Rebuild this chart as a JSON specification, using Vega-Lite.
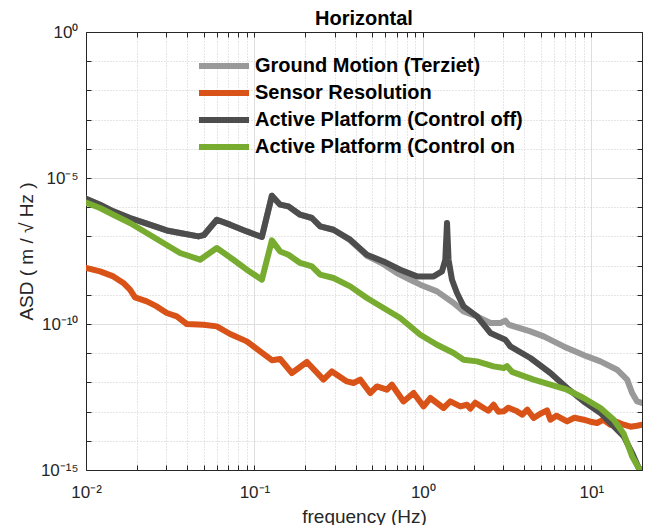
{
  "$schema": "https://vega.github.io/schema/vega-lite/v6.json",
  "width": 556,
  "height": 438,
  "autosize": {"type": "none"},
  "padding": {"left": 86, "top": 32, "right": 9, "bottom": 55},
  "background": "white",
  "title": {"text": "Horizontal", "fontSize": 20, "fontWeight": "bold", "color": "black", "font": "Liberation Sans", "anchor": "middle", "frame": "group", "baseline": "alphabetic", "offset": 7, "dy": 29},
  "config": {"view": {"stroke": null}, "font": "Liberation Sans"},
  "datasets": {
    "ground": [
      {"f":0.01,"v":1.954e-6},{"f":0.01211,"v":1.219e-6},{"f":0.01453,"v":7.18e-7},{"f":0.01825,"v":4.27e-7},{"f":0.02295,"v":2.72e-7},{"f":0.03017,"v":1.60e-7},{"f":0.03618,"v":1.306e-7},{"f":0.04649,"v":1.0e-7},{"f":0.05,"v":1.10e-7},{"f":0.05978,"v":3.73e-7},{"f":0.07171,"v":2.52e-7},{"f":0.0901,"v":1.48e-7},{"f":0.1107,"v":9.53e-8},{"f":0.1269,"v":2.48e-6},{"f":0.1421,"v":1.22e-6},{"f":0.1592,"v":1.065e-6},{"f":0.1868,"v":5.53e-7},{"f":0.2193,"v":4.27e-7},{"f":0.2457,"v":2.20e-7},{"f":0.2946,"v":1.69e-7},{"f":0.3703,"v":7.4e-8},{"f":0.4653,"v":2.18e-8},{"f":0.5842,"v":1.12e-8},{"f":0.7015,"v":5.58e-9},{"f":0.8416,"v":3.29e-9},{"f":0.965,"v":2.22e-9},{"f":1.213,"v":1.31e-9},{"f":1.522,"v":5.24e-10},{"f":1.745,"v":2.70e-10},{"f":2.097,"v":1.82e-10},{"f":2.515,"v":1.08e-10},{"f":2.884,"v":1.08e-10},{"f":3.088,"v":1.30e-10},{"f":3.23,"v":9.46e-11},{"f":4.346,"v":5.58e-11},{"f":5.215,"v":3.76e-11},{"f":6.855,"v":1.71e-11},{"f":9.44,"v":7.76e-12},{"f":11.33,"v":5.24e-12},{"f":14.23,"v":2.72e-12},{"f":16.32,"v":1.24e-12},{"f":17.48,"v":4.34e-13},{"f":18.71,"v":2.23e-13},{"f":20,"v":1.97e-13}
    ],
    "sensor": [
      {"f":0.01,"v":8.28e-9},{"f":0.01211,"v":6.33e-9},{"f":0.01453,"v":4.27e-9},{"f":0.01666,"v":2.54e-9},{"f":0.01825,"v":1.50e-9},{"f":0.01954,"v":8.15e-10},{"f":0.02295,"v":5.94e-10},{"f":0.0263,"v":4.01e-10},{"f":0.03017,"v":2.38e-10},{"f":0.03459,"v":1.82e-10},{"f":0.03965,"v":1.0e-10},{"f":0.04977,"v":9.46e-11},{"f":0.05978,"v":8.28e-11},{"f":0.07171,"v":4.55e-11},{"f":0.0901,"v":2.54e-11},{"f":0.1081,"v":1.15e-11},{"f":0.1269,"v":5.75e-12},{"f":0.1421,"v":6.33e-12},{"f":0.1668,"v":2.10e-12},{"f":0.2048,"v":5.00e-12},{"f":0.257,"v":1.24e-12},{"f":0.2884,"v":2.38e-12},{"f":0.354,"v":1.08e-12},{"f":0.3876,"v":9.53e-13},{"f":0.4246,"v":1.24e-12},{"f":0.4868,"v":4.34e-13},{"f":0.5337,"v":7.29e-13},{"f":0.6117,"v":5.62e-13},{"f":0.6552,"v":8.34e-13},{"f":0.7677,"v":2.23e-13},{"f":0.8805,"v":4.34e-13},{"f":1.01,"v":1.51e-13},{"f":1.107,"v":2.92e-13},{"f":1.327,"v":1.33e-13},{"f":1.455,"v":2.23e-13},{"f":1.668,"v":1.51e-13},{"f":1.828,"v":1.72e-13},{"f":1.912,"v":1.26e-13},{"f":2.048,"v":2.02e-13},{"f":2.295,"v":1.33e-13},{"f":2.447,"v":1.07e-13},{"f":2.631,"v":1.72e-13},{"f":2.805,"v":9.93e-14},{"f":3.017,"v":1.02e-13},{"f":3.217,"v":1.36e-13},{"f":3.623,"v":1.02e-13},{"f":3.896,"v":7.83e-14},{"f":4.173,"v":1.16e-13},{"f":4.548,"v":6.04e-14},{"f":4.983,"v":8.47e-14},{"f":5.463,"v":1.10e-13},{"f":5.715,"v":5.28e-14},{"f":6.203,"v":7.24e-14},{"f":7.18,"v":4.61e-14},{"f":7.935,"v":6.18e-14},{"f":9.01,"v":5.28e-14},{"f":9.88,"v":4.51e-14},{"f":10.83,"v":4.07e-14},{"f":11.8,"v":5.28e-14},{"f":12.99,"v":3.56e-14},{"f":14.1,"v":4.51e-14},{"f":15.58,"v":3.56e-14},{"f":17.08,"v":3.04e-14},{"f":18.71,"v":3.29e-14},{"f":20,"v":3.56e-14}
    ],
    "off": [
      {"f":0.01,"v":1.954e-6},{"f":0.01211,"v":1.219e-6},{"f":0.01453,"v":7.18e-7},{"f":0.01825,"v":4.27e-7},{"f":0.02295,"v":2.72e-7},{"f":0.03017,"v":1.60e-7},{"f":0.03618,"v":1.306e-7},{"f":0.04649,"v":1.0e-7},{"f":0.05,"v":1.10e-7},{"f":0.05978,"v":3.73e-7},{"f":0.07171,"v":2.52e-7},{"f":0.0901,"v":1.48e-7},{"f":0.1107,"v":9.53e-8},{"f":0.1269,"v":2.48e-6},{"f":0.1421,"v":1.22e-6},{"f":0.1592,"v":1.065e-6},{"f":0.1868,"v":5.53e-7},{"f":0.2193,"v":4.27e-7},{"f":0.2457,"v":2.20e-7},{"f":0.2946,"v":1.69e-7},{"f":0.3703,"v":7.71e-8},{"f":0.4653,"v":2.36e-8},{"f":0.5842,"v":1.39e-8},{"f":0.734,"v":7.24e-9},{"f":0.9226,"v":4.27e-9},{"f":1.158,"v":4.27e-9},{"f":1.299,"v":6.33e-9},{"f":1.359,"v":1.59e-8},{"f":1.391,"v":2.88e-7},{"f":1.421,"v":1.59e-8},{"f":1.489,"v":3.29e-9},{"f":1.594,"v":1.15e-9},{"f":1.745,"v":4.01e-10},{"f":2.097,"v":1.82e-10},{"f":2.515,"v":4.92e-11},{"f":3.088,"v":2.90e-11},{"f":3.305,"v":1.71e-11},{"f":4.346,"v":6.85e-12},{"f":5.715,"v":2.10e-12},{"f":7.18,"v":6.43e-13},{"f":9.01,"v":2.23e-13},{"f":11.33,"v":8.95e-14},{"f":13.59,"v":3.11e-14},{"f":15.58,"v":1.42e-14},{"f":17.48,"v":3.82e-15},{"f":19.12,"v":1.17e-15},{"f":20,"v":1.0e-15}
    ],
    "on": [
      {"f":0.01,"v":1.43e-6},{"f":0.01211,"v":9.39e-7},{"f":0.01453,"v":5.53e-7},{"f":0.01825,"v":2.88e-7},{"f":0.02295,"v":1.31e-7},{"f":0.02879,"v":5.94e-8},{"f":0.03618,"v":2.70e-8},{"f":0.04757,"v":1.59e-8},{"f":0.05978,"v":4.01e-8},{"f":0.07502,"v":1.59e-8},{"f":0.0901,"v":7.24e-9},{"f":0.1107,"v":3.29e-9},{"f":0.1269,"v":7.30e-8},{"f":0.1421,"v":3.06e-8},{"f":0.1592,"v":2.36e-8},{"f":0.1868,"v":1.23e-8},{"f":0.2193,"v":9.39e-9},{"f":0.2457,"v":4.88e-9},{"f":0.2946,"v":3.76e-9},{"f":0.3703,"v":1.94e-9},{"f":0.4653,"v":7.76e-10},{"f":0.5842,"v":3.53e-10},{"f":0.734,"v":1.60e-10},{"f":0.965,"v":4.30e-11},{"f":1.213,"v":1.95e-11},{"f":1.522,"v":1.02e-11},{"f":1.745,"v":5.98e-12},{"f":2.097,"v":5.24e-12},{"f":2.631,"v":3.53e-12},{"f":3.017,"v":3.11e-12},{"f":3.16,"v":3.6e-12},{"f":3.383,"v":2.3e-12},{"f":4.548,"v":1.24e-12},{"f":5.715,"v":8.34e-13},{"f":7.18,"v":5.62e-13},{"f":9.01,"v":2.92e-13},{"f":11.33,"v":1.33e-13},{"f":13.59,"v":5.28e-14},{"f":15.58,"v":1.75e-14},{"f":17.48,"v":2.92e-15},{"f":19.12,"v":1.17e-15},{"f":20,"v":1.0e-15}
    ]
  },
  "layer": [
    {
      "data": {"name": "ground"},
      "mark": {"type": "line", "strokeWidth": 6, "clip": true, "strokeJoin": "round", "strokeCap": "round"},
      "encoding": {
        "x": {"field": "f", "type": "quantitative", "scale": {"type": "log", "domain": [0.01, 20], "nice": false},
          "axis": {"orient": "bottom", "values": [0.01,0.02,0.03,0.04,0.05,0.06,0.07,0.08,0.09,0.1,0.2,0.3,0.4,0.5,0.6,0.7,0.8,0.9,1,2,3,4,5,6,7,8,9,10,20],
            "labelExpr": "datum.value == 0.01 ? '10⁻²' : datum.value == 0.1 ? '10⁻¹' : datum.value == 1 ? '10⁰' : datum.value == 10 ? '10¹' : ''",
            "labelFont": "Liberation Sans", "labelFontSize": 17, "labelColor": "#262626", "labelPadding": 19, "labelFlush": false, "labelOverlap": false, "labelBound": false,
            "tickSize": -5, "tickColor": "#262626", "domainColor": "#262626",
            "grid": true,
            "gridColor": {"condition": {"test": "datum.value == 0.01 || datum.value == 0.1 || datum.value == 1 || datum.value == 10", "value": "#dedede"}, "value": "#cccccc"},
            "gridDash": {"condition": {"test": "datum.value == 0.01 || datum.value == 0.1 || datum.value == 1 || datum.value == 10", "value": []}, "value": [1, 2]},
            "title": "frequency (Hz)", "titleFont": "Liberation Sans", "titleFontSize": 19, "titleFontWeight": "normal", "titleColor": "#262626", "titleY": 52, "titleBaseline": "alphabetic"}},
        "y": {"field": "v", "type": "quantitative", "scale": {"type": "log", "domain": [1e-15, 1], "nice": false},
          "axis": {"orient": "left", "values": [1e-15,1e-14,1e-13,1e-12,1e-11,1e-10,1e-9,1e-8,1e-7,1e-6,1e-5,1e-4,1e-3,1e-2,1e-1,1],
            "labelExpr": "datum.value == 1 ? '10⁰' : datum.value == 1e-5 ? '10⁻⁵' : datum.value == 1e-10 ? '10⁻¹⁰' : datum.value == 1e-15 ? '10⁻¹⁵' : ''",
            "labelFont": "Liberation Sans", "labelFontSize": 17, "labelColor": "#262626", "labelPadding": 13, "labelOverlap": false, "labelBound": false, "labelFlush": false,
            "tickSize": -5, "tickColor": "#262626", "domainColor": "#262626",
            "grid": true,
            "gridColor": {"condition": {"test": "datum.value == 1 || datum.value == 1e-5 || datum.value == 1e-10 || datum.value == 1e-15", "value": "#dedede"}, "value": "#cccccc"},
            "gridDash": {"condition": {"test": "datum.value == 1 || datum.value == 1e-5 || datum.value == 1e-10 || datum.value == 1e-15", "value": []}, "value": [1, 2]},
            "title": "ASD ( m / √ Hz )", "titleFont": "Liberation Sans", "titleFontSize": 19, "titleFontWeight": "normal", "titleColor": "#262626", "titleX": -54, "titleY": 219, "titleAngle": 270, "titleBaseline": "alphabetic"}},
        "color": {"datum": "Ground Motion (Terziet)", "type": "nominal",
          "scale": {"domain": ["Ground Motion (Terziet)", "Sensor Resolution", "Active Platform (Control off)", "Active Platform (Control on"], "range": ["#999999", "#D95319", "#4D4D4D", "#77AC30"]},
          "legend": {"orient": "none", "legendX": 125, "legendY": 21, "title": null, "symbolType": "M-2.5,0H2.5", "symbolSize": 400, "symbolStrokeWidth": 6, "symbolFillColor": "transparent", "labelFontSize": 20, "labelFontWeight": "bold", "labelFont": "Liberation Sans", "labelColor": "black", "labelLimit": 500, "rowPadding": 2, "labelOffset": 18, "padding": 0}}
      }
    },
    {
      "data": {"name": "sensor"},
      "mark": {"type": "line", "strokeWidth": 6, "clip": true, "strokeJoin": "round", "strokeCap": "round"},
      "encoding": {
        "x": {"field": "f", "type": "quantitative", "axis": null},
        "y": {"field": "v", "type": "quantitative", "axis": null},
        "color": {"datum": "Sensor Resolution", "type": "nominal"}
      }
    },
    {
      "data": {"name": "off"},
      "mark": {"type": "line", "strokeWidth": 6, "clip": true, "strokeJoin": "round", "strokeCap": "round"},
      "encoding": {
        "x": {"field": "f", "type": "quantitative", "axis": null},
        "y": {"field": "v", "type": "quantitative", "axis": null},
        "color": {"datum": "Active Platform (Control off)", "type": "nominal"}
      }
    },
    {
      "data": {"name": "on"},
      "mark": {"type": "line", "strokeWidth": 6, "clip": true, "strokeJoin": "round", "strokeCap": "round"},
      "encoding": {
        "x": {"field": "f", "type": "quantitative", "axis": null},
        "y": {"field": "v", "type": "quantitative", "axis": null},
        "color": {"datum": "Active Platform (Control on", "type": "nominal"}
      }
    },
    {
      "data": {"name": "ground"},
      "mark": {"type": "line", "opacity": 0, "clip": true},
      "encoding": {
        "x": {"field": "f", "type": "quantitative",
          "axis": {"orient": "top", "values": [0.01,0.02,0.03,0.04,0.05,0.06,0.07,0.08,0.09,0.1,0.2,0.3,0.4,0.5,0.6,0.7,0.8,0.9,1,2,3,4,5,6,7,8,9,10,20], "labels": false, "grid": false, "tickSize": -5, "tickColor": "#262626", "domainColor": "#262626", "title": null}},
        "y": {"field": "v", "type": "quantitative",
          "axis": {"orient": "right", "values": [1e-15,1e-14,1e-13,1e-12,1e-11,1e-10,1e-9,1e-8,1e-7,1e-6,1e-5,1e-4,1e-3,1e-2,1e-1,1], "labels": false, "grid": false, "tickSize": -5, "tickColor": "#262626", "domainColor": "#262626", "title": null}}
      }
    }
  ]
}
